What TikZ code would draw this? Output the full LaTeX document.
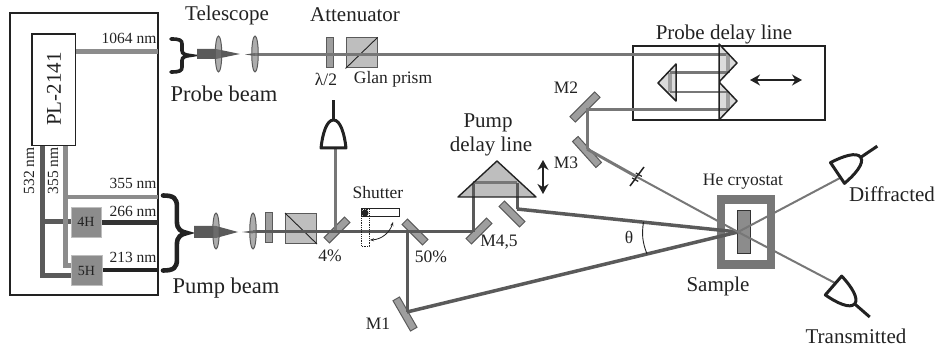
\documentclass[tikz,border=0pt]{standalone}
\usepackage{fontspec}
\setmainfont{Liberation Serif}
\usetikzlibrary{arrows.meta,shapes.geometric}
\definecolor{ink}{HTML}{222222}
\definecolor{beamA}{HTML}{8C8C8C}
\definecolor{beamB}{HTML}{5A5A5A}
\definecolor{beamC}{HTML}{333333}
\definecolor{beamD}{HTML}{777777}
\definecolor{glass}{HTML}{BEBEBE}
\definecolor{mirrorgray}{HTML}{9E9E9E}
\tikzset{
	hugetxt/.style={text=ink,inner sep=0pt,font=\fontsize{22.5}{24}\selectfont},
	bigtxt/.style={text=ink,inner sep=0pt,font=\fontsize{21}{23}\selectfont},
	midtxt/.style={text=ink,inner sep=0pt,font=\fontsize{17.5}{19}\selectfont},
	smalltxt/.style={text=ink,inner sep=0pt,font=\fontsize{15.5}{17}\selectfont},
	mirror/.style={draw=beamB,line width=1pt,fill=mirrorgray,inner sep=0pt,minimum width=#1,minimum height=7.5pt},
	mirror/.default=29pt,
	lens/.style={draw=beamB,line width=1pt,fill=beamD,fill opacity=.6,ellipse,inner sep=0pt,minimum width=6.5pt,minimum height=36pt},
	harm/.style={fill=beamA,draw=glass,line width=.6pt,inner sep=0pt,minimum width=30pt,minimum height=30pt,font=\fontsize{14}{16}\selectfont,text=ink},
	plate/.style={draw=beamB,fill=mirrorgray,line width=1pt,inner sep=0pt,minimum width=7pt,minimum height=30pt},
	prism/.style={draw=beamB,fill=glass,line width=1pt,inner sep=0pt,minimum width=31pt,minimum height=30pt},
	twoway/.style={{Stealth[length=10pt,width=11pt]}-{Stealth[length=10pt,width=11pt]},ink,line width=1.4pt},
	detector/.pic={
		\draw[ink,line width=3pt,line join=round] (-12.5,0) -- (12.5,0) .. controls (11,-14) and (7,-28) .. (0,-28) .. controls (-7,-28) and (-11,-14) .. (-12.5,0) -- cycle;
		\draw[ink,line width=3pt] (0,-28) -- (0,-48);
	},
	curly/.pic={
		\draw[ink,line width=#1,line cap=round] (0,-1) .. controls (.45,-1) and (.58,-.93) .. (.58,-.7) -- (.58,-.3) .. controls (.58,-.1) and (.75,-.03) .. (1,0) .. controls (.75,.03) and (.58,.1) .. (.58,.3) -- (.58,.7) .. controls (.58,.93) and (.45,1) .. (0,1);
	}
}
\begin{document}
\begin{tikzpicture}[x=1pt,y=-1pt]
	\useasboundingbox (0,0) rectangle (936,347);
	\begin{scope}
		\coordinate (laserA) at (76,52);
		\coordinate (laserB) at (158,52);
		\coordinate (g1) at (42,145);
		\coordinate (g2) at (42,275);
		\coordinate (g3) at (75,275);
		\coordinate (g4) at (42,222);
		\coordinate (g5) at (75,222);
		\coordinate (u1) at (65,145);
		\coordinate (u2) at (65,265);
		\coordinate (u3) at (75,265);
		\coordinate (u4) at (65,197);
		\coordinate (u5) at (158,197);
		\coordinate (h1) at (100,223);
		\coordinate (h2) at (158,223);
		\coordinate (h3) at (100,270);
		\coordinate (h4) at (158,270);

		\draw[ink,line width=1.8pt] (10,13) rectangle (158,295);
		\draw[beamA,line width=5pt] (laserA) to (laserB);
		\draw[beamB,line width=5pt] (g1) -- (g2) -- (g3);
		\draw[beamB,line width=5pt] (g4) to (g5);
		\draw[beamA,line width=5pt] (u1) -- (u2) -- (u3);
		\draw[beamA,line width=4.5pt] (u4) to (u5);
		\draw[beamC,line width=5pt] (h1) to (h2);
		\draw[ink,line width=4.5pt] (h3) to (h4);

		\node[draw=ink,fill=white,line width=1.5pt,minimum width=43.5pt,minimum height=111.5pt,inner sep=0pt] (pl) at (53.75,89.75) {};
		\node[bigtxt,rotate=90] (pltxt) at (54,89) {PL-2141};
		\node[harm] (fourh) at (86,222) {4H};
		\node[harm,minimum width=31pt] (fiveh) at (86.5,270.5) {5H};

		\node[smalltxt] (t1064) at (129,38) {1064 nm};
		\node[smalltxt] (t355) at (133,183) {355 nm};
		\node[smalltxt] (t266) at (133,211) {266 nm};
		\node[smalltxt] (t213) at (133,257) {213 nm};
		\node[smalltxt,rotate=90] (t532v) at (29,171) {532 nm};
		\node[smalltxt,rotate=90] (t355v) at (53,171) {355 nm};
	\end{scope}

	\coordinate (brp) at (171,55.5);
	\coordinate (brq) at (163,233);
	\pic[x=19pt,y=16.5pt] at (brp) {curly=3.6pt};
	\pic[x=24pt,y=37.5pt] at (brq) {curly=4.6pt};

	\fill[beamB] (197,49) -- (216,49) -- (240,54) -- (216,59) -- (197,59) -- cycle;
	\fill[beamB] (245,54.5) -- (255,53) -- (255,56) -- cycle;
	\fill[beamB] (194,226) -- (216,226) -- (238,232) -- (216,238) -- (194,238) -- cycle;
	\fill[beamB] (242,232) -- (253,230.5) -- (253,233.5) -- cycle;

	\coordinate (pa) at (255,54.5);
	\coordinate (pb) at (728,54.5);
	\coordinate (pc) at (728,73);
	\coordinate (pd) at (670,73);
	\coordinate (pe) at (670,92);
	\coordinate (pf) at (728,92);
	\coordinate (pg) at (728,110);
	\coordinate (ph) at (587,110);
	\coordinate (pi) at (587,149);
	\coordinate (slit) at (637,177);
	\coordinate (smp) at (738,232);
	\coordinate (tr) at (835,283);
	\coordinate (df) at (840,178);
	\coordinate (qa) at (253,232);
	\coordinate (qb) at (473,232);
	\coordinate (qc) at (473,183);
	\coordinate (qd) at (517,183);
	\coordinate (qe) at (517,209);
	\coordinate (qf) at (407,232);
	\coordinate (qg) at (407,312);
	\coordinate (qh) at (335,232);
	\coordinate (qi) at (335,148);
	\coordinate (th1) at (643.5,222);
	\coordinate (th2) at (647,254);

	\draw[ink,line width=1.5pt] (633,46) rectangle (825,120);

	\node[plate] (wpa) at (329.5,53) {};
	\node[prism] (glana) at (361.5,53) {};
	\node[plate] (wpb) at (268.5,228) {};
	\node[prism] (glanb) at (301,228.5) {};
	\draw[ink,line width=.9pt] (glana.south west) to (glana.north east);
	\draw[ink,line width=.9pt] (glanb.north west) to (glanb.south east);

	\fill[glass!55] (719,44) -- (737,63) -- (719,82) -- (737,101) -- (719,120) -- cycle;
	\fill[glass!55] (676,64) -- (658,83) -- (676,101) -- cycle;
	\fill[glass] (458,197) -- (497,161) -- (536,197) -- cycle;

	\node[mirror] (bs4) at (337,230) [rotate=45] {};
	\node[mirror] (bs50) at (415,232) [rotate=-45] {};
	\node[mirror] (m4) at (479,231) [rotate=45] {};
	\node[mirror] (m5) at (512,214) [rotate=-45] {};
	\node[mirror=35pt] (m1) at (405,314) [rotate=-60] {};
	\node[mirror=35pt] (m2) at (585,107) [rotate=45] {};
	\node[mirror=35pt] (m3) at (587,152) [rotate=-48] {};

	\draw[beamD,line width=3pt] (pa) to (pb);
	\draw[mirrorgray,line width=3.5pt] (pb) -- (pc);
	\draw[mirrorgray,line width=3.5pt] (pd) -- (pe);
	\draw[mirrorgray,line width=3.5pt] (pf) -- (pg);
	\draw[beamD,line width=3pt] (pc) -- (pd);
	\draw[beamD,line width=2pt] (pe) -- (pf);
	\draw[beamD,line width=3pt] (pg) -- (ph) -- (pi);
	\draw[beamD,line width=3pt] (pi) to (slit);
	\draw[beamD,line width=3pt] (qi) to (qh);
	\draw[beamB,line width=3pt] (qa) to (qb);
	\draw[beamB,line width=3pt] (qb) -- (qc);
	\draw[beamD,line width=3pt] (qc) -- (qd);
	\draw[beamB,line width=3pt] (qd) -- (qe);
	\draw[beamB,line width=3pt] (qf) to (qg);

	\draw[ink,line width=1.5pt,line join=round] (719,44) -- (737,63) -- (719,82) -- (737,101) -- (719,120) -- cycle;
	\draw[ink,line width=1.5pt,line join=round] (676,64) -- (658,83) -- (676,101) -- cycle;
	\draw[ink,line width=1.4pt,line join=round] (458,197) -- (497,161) -- (536,197) -- cycle;

	\node[lens] (la) at (218.5,54) {};
	\node[lens] (lb) at (255,54) {};
	\node[lens] (lc) at (216,231) {};
	\node[lens] (ld) at (253,231) {};

	\draw[ink,line width=1.5pt] (630,186) to (644,167);
	\draw[ink,line width=1.2pt] (635.8,173) to (641.8,176.4);
	\draw[ink,line width=1.2pt] (632.2,178) to (638.2,181.4);

	\draw[beamD,line width=8.5pt,fill=white] (721,199.5) rectangle (771,264.5);
	\node[draw=beamC,fill=beamA,line width=1pt,inner sep=0pt,minimum width=13pt,minimum height=42pt] (sampl) at (743.5,232) {};
	\draw[beamB,line width=3.5pt] (qe) to (smp);
	\draw[beamB,line width=3.5pt] (qg) to (smp);
	\draw[beamD,line width=2pt] (slit) to (smp);
	\draw[beamD,line width=2pt] (smp) to (tr);
	\draw[beamD,line width=2pt] (smp) to (df);
	\draw[ink,line width=.9pt] (th1) to[bend right=15] (th2);

	\pic[rotate=0] at (333.5,148) {detector};
	\pic[rotate=-56] at (837.5,173) {detector};
	\pic[rotate=-131] at (833.5,285.5) {detector};

	\draw[ink,line width=1pt] (361,209) rectangle (399,217);
	\draw[ink,densely dotted,line width=.8pt] (361,209) rectangle (369,246);
	\node[fill=ink,circle,inner sep=0pt,minimum size=7pt] (dot) at (365,213) {};
	\coordinate (swa) at (393,222);
	\coordinate (swb) at (370,240);
	\draw[{Stealth[length=4pt]}-{Stealth[length=4pt]},ink,line width=.8pt] (swa) to[bend left=35] (swb);

	\coordinate (ua) at (543,160);
	\coordinate (ub) at (543,194);
	\coordinate (va) at (750,80);
	\coordinate (vb) at (802,80);
	\draw[twoway] (ua) to (ub);
	\draw[twoway] (va) to (vb);

	\node[bigtxt] (telescope) at (227,15) {Telescope};
	\node[bigtxt] (atten) at (355,15) {Attenuator};
	\node[hugetxt] (probe) at (224,94) {Probe beam};
	\node[hugetxt] (pump) at (226,288) {Pump beam};
	\node[bigtxt] (probedelay) at (724,34) {Probe delay line};
	\node[bigtxt] (pumpa) at (488,123) {Pump};
	\node[bigtxt] (pumpb) at (491,146) {delay line};
	\node[bigtxt] (sample) at (718,286) {Sample};
	\node[bigtxt] (diffr) at (892,194) {Diffracted};
	\node[bigtxt] (trans) at (856,336) {Transmitted};
	\node[midtxt] (lam) at (326,79) {λ/2};
	\node[midtxt] (glan) at (393,79) {Glan prism};
	\node[midtxt] (shut) at (378,193) {Shutter};
	\node[midtxt] (p4) at (330,256) {4\%};
	\node[midtxt] (p50) at (431,257) {50\%};
	\node[midtxt] (m45) at (499,242) {M4,5};
	\node[midtxt] (tm1) at (378,324) {M1};
	\node[midtxt] (tm2) at (566,88) {M2};
	\node[midtxt] (tm3) at (566,163) {M3};
	\node[midtxt] (cryo) at (743,182) {He cryostat};
	\node[midtxt] (theta) at (629,237) {θ};
\end{tikzpicture}
\end{document}
